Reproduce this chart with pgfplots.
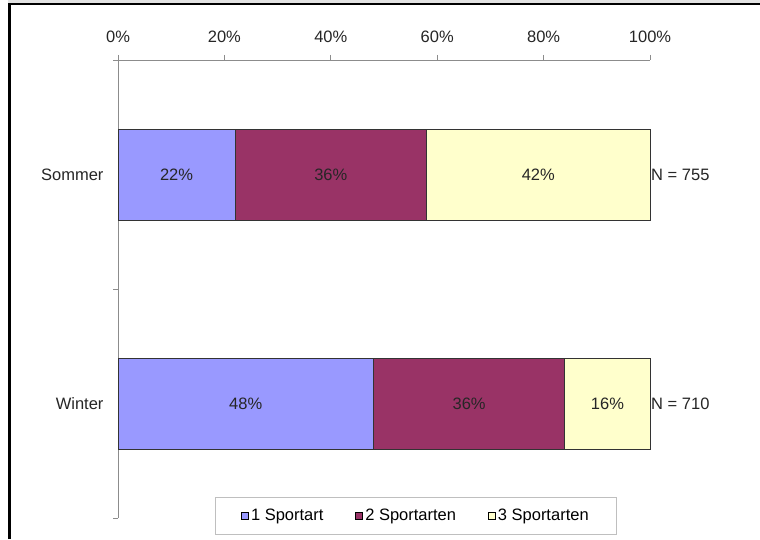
\documentclass[border=0pt]{standalone}
\usepackage{pgfplots}
\pgfplotsset{compat=1.18}
\usepackage{fontspec}
\setmainfont{Liberation Sans}
\definecolor{cOne}{HTML}{9999FF}
\definecolor{cTwo}{HTML}{993366}
\definecolor{cThree}{HTML}{FFFFCC}
\definecolor{axgray}{HTML}{8C8C8C}
\definecolor{bandgray}{HTML}{E2E2E2}
\begin{document}
\begin{tikzpicture}[x=1pt,y=1pt]
\useasboundingbox (0,0) rectangle (760,539);
\fill[white] (0,0) rectangle (760,539);
\fill[bandgray] (8,535) rectangle (760,539);
\draw[black, line width=2.6pt] (8,535) -- (760,535);
\draw[black, line width=2.6pt] (9.3,0) -- (9.3,536.3);
\begin{axis}[
  at={(118pt,21pt)}, anchor=south west,
  width=532pt, height=458pt, scale only axis,
  xbar stacked,
  bar width=91pt,
  xmin=0, xmax=100,
  ymin=-0.5, ymax=1.5,
  axis x line*=top,
  axis y line*=left,
  axis line style={axgray, line width=0.9pt},
  xtick={0,20,40,60,80,100},
  xticklabels={0\%,20\%,40\%,60\%,80\%,100\%},
  ytick={-0.5,0.5,1.5},
  yticklabels={},
  extra y ticks={0,1},
  extra y tick labels={Winter,Sommer},
  extra y tick style={major tick length=0pt, yticklabel style={xshift=-7pt}},
  tick align=outside,
  major tick length=5pt,
  tick style={axgray, line width=0.9pt},
  every tick label/.append style={font=\fontsize{16.5}{19}\selectfont, text=black!85},
  xticklabel style={yshift=9pt},
  yticklabel style={xshift=-4pt},
  /pgf/number format/assume math mode=true,
  nodes near coords={\pgfmathprintnumber{\pgfplotspointmeta}\%},
  every node near coord/.append style={font=\fontsize{16.5}{19}\selectfont, text=black!85},
  legend style={
    at={(0.5601,0.0459)}, anchor=north,
    draw=black!25, line width=0.8pt,
    legend columns=3,
    inner ysep=10pt, inner xsep=26pt,
    font=\fontsize{16.5}{19}\selectfont,
    /tikz/every even column/.append style={column sep=30pt},
  },
  legend cell align=left,
  legend image code/.code={\draw[#1, draw=black, line width=0.8pt] (0pt,-3.5pt) rectangle (7pt,3.5pt);},
  clip=false,
]
\addplot[fill=cOne, draw=black!80, line width=0.8pt] coordinates {(48,0) (22,1)};
\addplot[fill=cTwo, draw=black!80, line width=0.8pt] coordinates {(36,0) (36,1)};
\addplot[fill=cThree, draw=black!80, line width=0.8pt] coordinates {(16,0) (42,1)};
\legend{1 Sportart, 2 Sportarten, 3 Sportarten}
\node[anchor=west, inner sep=1pt, font=\fontsize{16.5}{19}\selectfont, text=black!85] at (axis cs:100,1) {N = 755};
\node[anchor=west, inner sep=1pt, font=\fontsize{16.5}{19}\selectfont, text=black!85] at (axis cs:100,0) {N = 710};
\end{axis}
\end{tikzpicture}
\end{document}
